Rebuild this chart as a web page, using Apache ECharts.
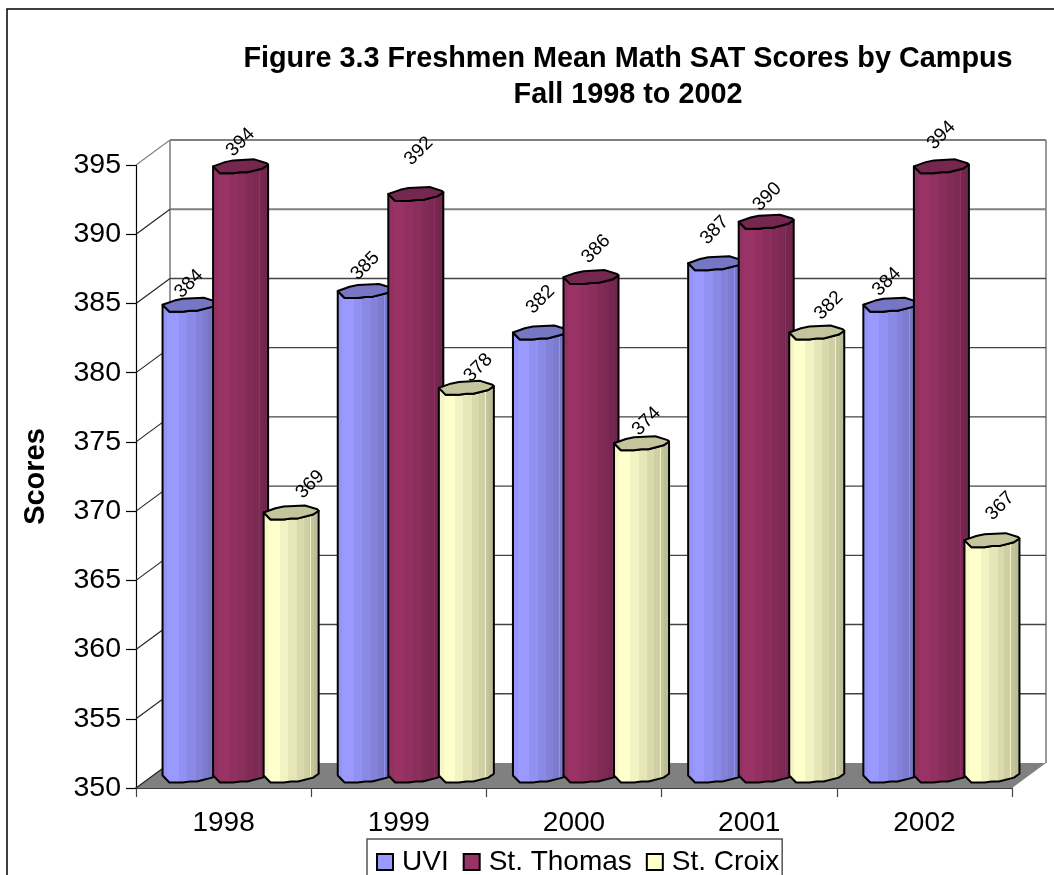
<!DOCTYPE html>
<html>
<head>
<meta charset="utf-8">
<title>Figure 3.3</title>
<script src="https://cdn.jsdelivr.net/npm/echarts@6/dist/echarts.min.js"></script>
<style>
html, body { margin: 0; padding: 0; background: #fff; overflow: hidden; }
#chart { width: 1054px; height: 875px; }
</style>
</head>
<body>
<div id="chart"></div>
<script>
var years = ['1998', '1999', '2000', '2001', '2002'];
var uvi = [384, 385, 382, 387, 384];
var stThomas = [394, 392, 386, 390, 394];
var stCroix = [369, 378, 374, 382, 367];
var yTicks = [350, 355, 360, 365, 370, 375, 380, 385, 390, 395];

var FONT = '"Liberation Sans", Arial, sans-serif';
// depth of the fake 3D box
var DEPTH_X = 34, DEPTH_Y = -25;
// outline of the top of a cylinder, -1..1 on both axes
var CAP_TOP = [[-1, 0], [-0.57, -0.6], [-0.27, -0.85], [0.5, -1], [0.95, -0.45], [1, -0.25]];
var CAP_BOTTOM = [[1, -0.25], [0.8, 0.3], [0.25, 0.85], [0, 0.85], [-0.27, 1], [-0.75, 1], [-1, 0]];
// facets of a cylinder: where each one starts and how bright it is
var FACETS = [[0, 0.92], [0.03, 0.97], [0.1, 1], [0.3, 0.95], [0.45, 0.9], [0.6, 0.85], [0.72, 0.81],
    [0.82, 0.77], [0.825, 0.95], [0.84, 0.77], [0.9, 0.74], [0.96, 0.71]];
// data labels do not sit evenly over the bars in the original, offset from the middle of the cap
var LABEL_NUDGE = {
    'UVI': [[-1, -21], [0, -25], [0, -33], [-1, -33], [-4, -23]],
    'St. Thomas': [[0, -24], [3, -43], [5, -28], [1, -25], [0, -31]],
    'St. Croix': [[19, -28], [12, -20], [5, -22], [12, -27], [8, -34]]
};

function shade(rgb, k) {
    return 'rgb(' + rgb.map(function (c) { return Math.round(c * k); }).join(',') + ')';
}

function facetFill(rgb) {
    var stops = [];
    for (var i = 0; i < FACETS.length; i++) {
        var next = i + 1 < FACETS.length ? FACETS[i + 1][0] : 1;
        stops.push({offset: FACETS[i][0], color: shade(rgb, FACETS[i][1])});
        stops.push({offset: next, color: shade(rgb, FACETS[i][1])});
    }
    return new echarts.graphic.LinearGradient(0, 0, 1, 0, stops);
}

function renderWall(params, api) {
    var value = api.value(0);
    var rect = params.coordSys;
    var y = api.coord([0, value])[1];
    var isTop = value === yTicks[yTicks.length - 1];
    var children = [];
    if (value === yTicks[0]) {
        children.push({
            type: 'polygon',
            shape: {points: [[rect.x, y], [rect.x + rect.width, y],
                [rect.x + rect.width + DEPTH_X, y + DEPTH_Y], [rect.x + DEPTH_X, y + DEPTH_Y]]},
            style: {fill: '#808080', stroke: null}
        });
        var topY = api.coord([0, yTicks[yTicks.length - 1]])[1] + DEPTH_Y;
        [rect.x + DEPTH_X, rect.x + rect.width + DEPTH_X].forEach(function (x) {
            children.push({
                type: 'line',
                shape: {x1: x, y1: topY, x2: x, y2: y + DEPTH_Y},
                style: {stroke: '#808080', lineWidth: 1.6}
            });
        });
    } else {
        var gray = isTop || value === 390;
        children.push({
            type: 'line',
            shape: {x1: rect.x + DEPTH_X, y1: y + DEPTH_Y, x2: rect.x + rect.width + DEPTH_X, y2: y + DEPTH_Y},
            style: {stroke: gray ? '#808080' : '#444', lineWidth: gray ? 2 : 1.4}
        });
    }
    children.push({
        type: 'line',
        shape: {x1: rect.x, y1: y, x2: rect.x + DEPTH_X, y2: y + DEPTH_Y},
        style: {stroke: isTop ? '#808080' : '#222', lineWidth: 1.1}
    });
    return {type: 'group', children: children};
}

function cylinderRenderer(name, position, rgb) {
    return function (params, api) {
        var cat = api.value(0), val = api.value(1);
        var catWidth = api.size([1, 0])[0];
        var top = api.coord([cat, val]);
        var base = api.coord([cat, yTicks[0]]);
        var cx = top[0] + DEPTH_X / 2 + position * catWidth * 0.2885;
        var topY = top[1] + DEPTH_Y / 2;
        var baseY = base[1] + DEPTH_Y / 2;
        var rx = catWidth * 0.157, ry = 7;
        var nudge = LABEL_NUDGE[name][cat];

        function at(p, y) { return [cx + p[0] * rx, y + p[1] * ry]; }

        var bodyPts = CAP_BOTTOM.map(function (p) { return at(p, topY); });
        CAP_BOTTOM.slice().reverse().forEach(function (p) { bodyPts.push(at(p, baseY)); });
        var capPts = CAP_TOP.concat(CAP_BOTTOM.slice(1, -1)).map(function (p) { return at(p, topY); });

        return {
            type: 'group',
            children: [
                {
                    type: 'polygon',
                    shape: {points: bodyPts},
                    style: {fill: facetFill(rgb), stroke: '#000', lineWidth: 2, lineJoin: 'round'}
                },
                {
                    type: 'polygon',
                    shape: {points: capPts},
                    style: {fill: shade(rgb, 0.77), stroke: '#000', lineWidth: 2, lineJoin: 'round'}
                },
                {
                    type: 'text',
                    x: cx + nudge[0],
                    y: topY + nudge[1],
                    rotation: Math.PI / 4,
                    z2: 20,
                    style: {
                        text: String(val), fill: '#000', font: '19px ' + FONT,
                        align: 'center', verticalAlign: 'middle'
                    }
                }
            ]
        };
    };
}

function cylinderSeries(name, values, position, rgb) {
    return {
        type: 'custom',
        name: name,
        coordinateSystem: 'cartesian2d',
        clip: false,
        z: 3,
        itemStyle: {color: shade(rgb, 1), borderColor: '#000', borderWidth: 1.5},
        encode: {x: 0, y: 1},
        data: values.map(function (v, i) { return [i, v]; }),
        renderItem: cylinderRenderer(name, position, rgb)
    };
}

var chart = echarts.init(document.getElementById('chart'), null, {renderer: 'canvas'});
chart.setOption({
    animation: false,
    backgroundColor: '#fff',
    textStyle: {fontFamily: FONT, color: '#000'},
    title: {
        text: 'Figure 3.3 Freshmen Mean Math SAT Scores by Campus\nFall 1998 to 2002',
        left: 623,
        top: 36,
        textAlign: 'center',
        textStyle: {fontFamily: FONT, fontSize: 28.8, fontWeight: 'bold', color: '#000', lineHeight: 36}
    },
    legend: {
        data: ['UVI', 'St. Thomas', 'St. Croix'],
        left: 367,
        top: 839,
        orient: 'horizontal',
        icon: 'rect',
        itemWidth: 16,
        itemHeight: 16,
        itemGap: 14,
        padding: [9, 3, 12, 9],
        borderColor: '#555',
        borderWidth: 1.5,
        textStyle: {fontFamily: FONT, fontSize: 28, color: '#000', padding: [0, 0, 0, 4]}
    },
    grid: {left: 136, right: 42, top: 165, bottom: 87},
    xAxis: {
        type: 'category',
        data: years,
        axisLine: {show: true, lineStyle: {color: '#000', width: 1.5}},
        axisTick: {show: true, alignWithLabel: false, length: 9, lineStyle: {color: '#444', width: 1.2}},
        axisLabel: {fontFamily: FONT, fontSize: 28, color: '#000', margin: 21},
        splitLine: {show: false}
    },
    yAxis: {
        type: 'value',
        min: 350,
        max: 395,
        interval: 5,
        name: 'Scores',
        nameLocation: 'middle',
        nameGap: 86,
        nameTextStyle: {fontFamily: FONT, fontSize: 29, fontWeight: 'bold', color: '#000'},
        axisLine: {show: true, lineStyle: {color: '#000', width: 1.2}},
        axisTick: {show: true, length: 10, lineStyle: {color: '#000', width: 1.2}},
        axisLabel: {fontFamily: FONT, fontSize: 28.5, color: '#000', margin: 15, padding: [6, 0, 0, 0]},
        splitLine: {show: false}
    },
    graphic: [{
        type: 'rect',
        shape: {x: 7, y: 9, width: 1200, height: 1000},
        style: {fill: 'none', stroke: '#000', lineWidth: 1.5},
        z: 100,
        silent: true
    }],
    series: [
        {
            type: 'custom',
            name: 'walls',
            coordinateSystem: 'cartesian2d',
            clip: false,
            z: 1,
            encode: {y: 0},
            data: yTicks.map(function (v) { return [v]; }),
            renderItem: renderWall,
            silent: true
        },
        cylinderSeries('UVI', uvi, -1, [153, 153, 255]),
        cylinderSeries('St. Thomas', stThomas, 0, [153, 51, 102]),
        cylinderSeries('St. Croix', stCroix, 1, [255, 255, 204])
    ]
});
</script>
</body>
</html>
